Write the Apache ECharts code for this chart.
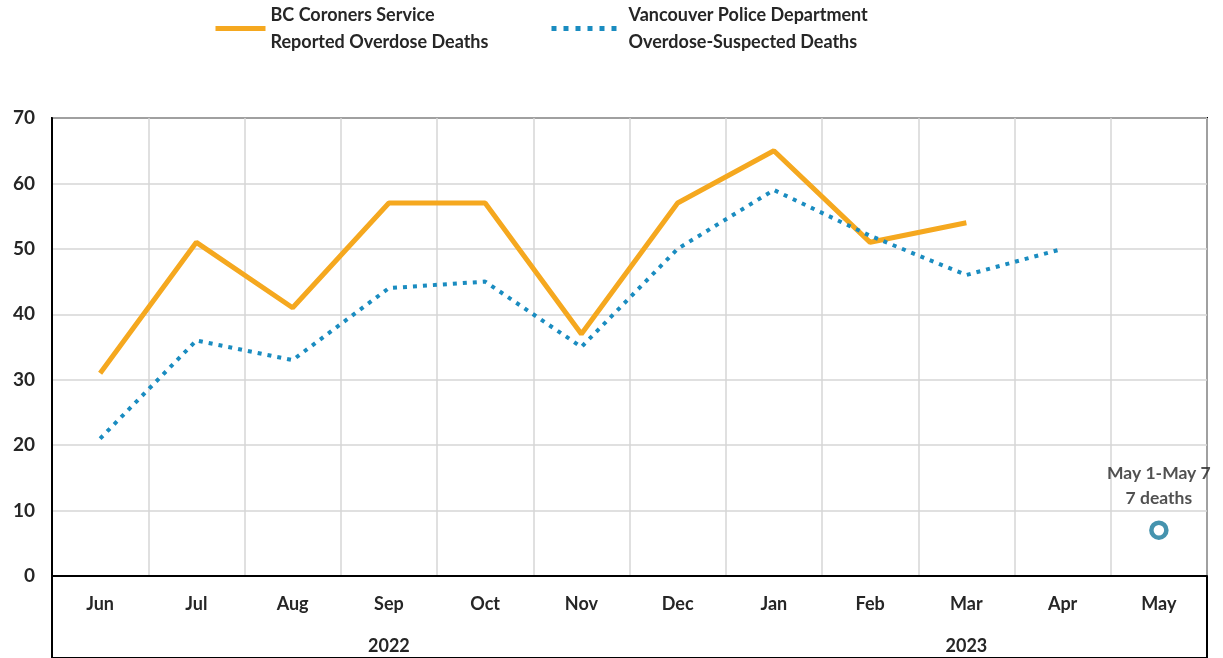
<!DOCTYPE html>
<html>
<head>
<meta charset="utf-8">
<script src="https://cdn.jsdelivr.net/npm/echarts@6/dist/echarts.min.js"></script>
<style>
  html, body { margin: 0; padding: 0; background: #fff; }
  #chart { width: 1223px; height: 658px; }
</style>
</head>
<body>
<div id="chart"></div>
<script>
// months shown on the axis, and the year row under them
const months = ['Jun', 'Jul', 'Aug', 'Sep', 'Oct', 'Nov', 'Dec', 'Jan', 'Feb', 'Mar', 'Apr', 'May'];
const yearLabels = ['', '', '', '2022', '', '', '', '', '', '2023', '', ''];

// BC Coroners Service reported overdose deaths
const coronerDeaths = [31, 51, 41, 57, 57, 37, 57, 65, 51, 54, null, null];
// Vancouver Police Department overdose-suspected deaths
const vpdDeaths = [21, 36, 33, 44, 45, 35, 50, 59, 52, 46, 50, null];
// partial month (May 1 - May 7)
const partialMay = [null, null, null, null, null, null, null, null, null, null, null, 7];

const yTicks = { min: 0, max: 70, interval: 10 };

const FONT = 'Lato';
const TEXT = '#262626';
const ORANGE = '#f5a81f';
const BLUE = '#1a8cc0';

const chart = echarts.init(document.getElementById('chart'), null, { renderer: 'canvas' });

// top padding keeps the legend icon level with the first text line
const legendText = {
    fontFamily: FONT,
    fontSize: 18,
    fontWeight: 'bold',
    color: TEXT,
    lineHeight: 27
};

const option = {
    animation: false,
    legend: [
        {
            data: ['BC Coroners Service\nReported Overdose Deaths'],
            left: 213, top: -12, padding: 0,
            itemWidth: 50, itemHeight: 6,
            itemStyle: { opacity: 0 },
            lineStyle: { width: 5 },
            textStyle: Object.assign({}, legendText, { padding: [27, 0, 0, 0] })
        },
        {
            data: ['Vancouver Police Department\nOverdose-Suspected Deaths'],
            left: 549, top: -12, padding: 0,
            itemWidth: 68, itemHeight: 6,
            itemStyle: { opacity: 0 },
            lineStyle: { width: 5, type: [5, 7] },
            textStyle: Object.assign({}, legendText, { padding: [27, 0, 0, 4] })
        }
    ],
    grid: [
        {
            left: 52, right: 16, top: 118, bottom: 82,
            show: true, borderColor: '#000', borderWidth: 2
        },
        {
            left: 52, right: 16, top: 576, height: 120,
            show: true, borderColor: '#000', borderWidth: 2
        }
    ],
    xAxis: [
        {
            type: 'category', gridIndex: 0, data: months,
            axisLine: { lineStyle: { color: '#000', width: 2 } },
            axisTick: { show: false },
            axisLabel: { fontFamily: FONT, fontSize: 18, fontWeight: 'bold', color: TEXT, margin: 19 },
            splitLine: { show: true, lineStyle: { color: '#d6d6d6', width: 1.5 } }
        },
        {
            type: 'category', gridIndex: 0, data: yearLabels, position: 'bottom',
            axisLine: { show: false },
            axisTick: { show: false },
            axisLabel: { fontFamily: FONT, fontSize: 18, fontWeight: 'bold', color: TEXT, margin: 61, interval: 0 },
            splitLine: { show: false }
        },
        {
            type: 'category', gridIndex: 1, data: months,
            axisLine: { show: false },
            axisTick: { show: false },
            axisLabel: { show: false },
            splitLine: {
                show: true,
                interval: function (index) { return index === 7; },
                lineStyle: { color: '#000', width: 2 }
            }
        }
    ],
    yAxis: [
        {
            type: 'value', gridIndex: 0,
            min: yTicks.min, max: yTicks.max, interval: yTicks.interval,
            axisLine: { show: true, lineStyle: { color: '#000', width: 2 } },
            axisLabel: { fontFamily: FONT, fontSize: 19, fontWeight: 'bold', color: TEXT, margin: 17 },
            splitLine: { show: true, lineStyle: { color: '#d6d6d6', width: 1.5 } }
        },
        {
            type: 'value', gridIndex: 1, show: false
        }
    ],
    series: [
        {
            name: 'BC Coroners Service\nReported Overdose Deaths',
            type: 'line', xAxisIndex: 0, yAxisIndex: 0,
            data: coronerDeaths,
            symbol: 'none',
            color: ORANGE,
            lineStyle: { color: ORANGE, width: 5 },
            z: 3
        },
        {
            name: 'Vancouver Police Department\nOverdose-Suspected Deaths',
            type: 'line', xAxisIndex: 0, yAxisIndex: 0,
            data: vpdDeaths,
            symbol: 'none',
            color: BLUE,
            lineStyle: { color: BLUE, width: 4, type: [4, 6] },
            z: 4
        },
        {
            name: 'May partial',
            type: 'scatter', xAxisIndex: 0, yAxisIndex: 0,
            data: partialMay,
            symbol: 'circle',
            symbolSize: 15,
            itemStyle: { color: '#fff', borderColor: '#17789a', borderWidth: 4.5 },
            label: {
                show: true, position: 'top', distance: 10,
                formatter: 'May 1-May 7\n7 deaths',
                fontFamily: FONT, fontSize: 17.5, fontWeight: 'bold', color: TEXT, lineHeight: 25
            },
            z: 5
        }
    ]
};

chart.setOption(option);
</script>
</body>
</html>
